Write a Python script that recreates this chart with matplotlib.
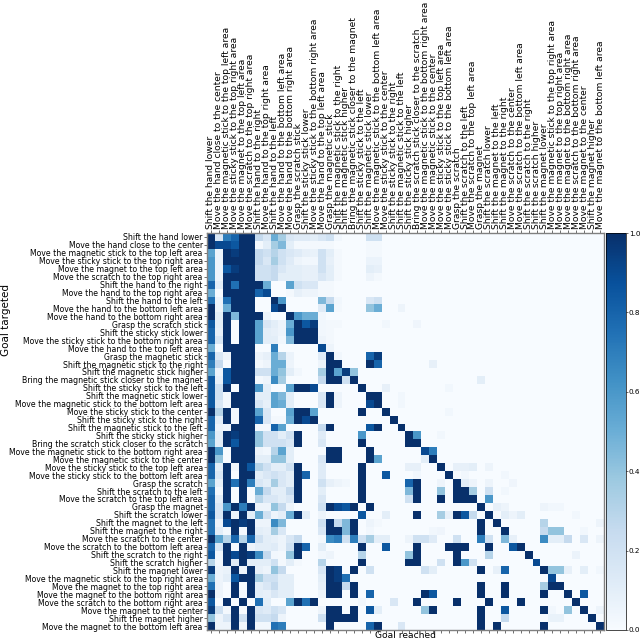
import numpy as np
import matplotlib
matplotlib.use('Agg')
import matplotlib.pyplot as plt

goals = [
    'Shift the hand lower', 'Move the hand close to the center',
    'Move the magnetic stick to the top left area', 'Move the sticky stick to the top right area',
    'Move the magnet to the top left area', 'Move the scratch to the top right area',
    'Shift the hand to the right', 'Move the hand to the top right area',
    'Shift the hand to the left', 'Move the hand to the bottom left area',
    'Move the hand to the bottom right area', 'Grasp the scratch stick',
    'Shift the sticky stick lower', 'Move the sticky stick to the bottom right area',
    'Move the hand to the top left area', 'Grasp the magnetic stick',
    'Shift the magnetic stick to the right', 'Shift the magnetic stick higher',
    'Bring the magnetic stick closer to the magnet', 'Shift the sticky stick to the left',
    'Shift the magnetic stick lower', 'Move the magnetic stick to the bottom left area',
    'Move the sticky stick to the center', 'Shift the sticky stick to the right',
    'Shift the magnetic stick to the left', 'Shift the sticky stick higher',
    'Bring the scratch stick closer to the scratch', 'Move the magnetic stick to the bottom right area',
    'Move the magnetic stick to the center', 'Move the sticky stick to the top left area',
    'Move the sticky stick to the bottom left area', 'Grasp the scratch',
    'Shift the scratch to the left', 'Move the scratch to the top left area',
    'Grasp the magnet', 'Shift the scratch lower',
    'Shift the magnet to the left', 'Shift the magnet to the right',
    'Move the scratch to the center', 'Move the scratch to the bottom left area',
    'Shift the scratch to the right', 'Shift the scratch higher',
    'Shift the magnet lower', 'Move the magnetic stick to the top right area',
    'Move the magnet to the top right area', 'Move the magnet to the bottom right area',
    'Move the scratch to the bottom right area', 'Move the magnet to the center',
    'Shift the magnet higher', 'Move the magnet to the bottom left area',
]

# percent of episodes, rows = goal targeted, columns = goal reached
# first 25 columns hold most of the mass, last 25 are mostly empty
rates_left = [
    [100,15,70,80,100,100,25,15,50,35,15,12,12,10,15,20,3,0,0,0,20,20,0,0,0],
    [100,90,90,85,100,100,2,10,35,45,10,2,2,2,2,2,0,0,0,0,2,2,0,0,0],
    [55,5,100,95,100,100,25,20,30,20,15,12,8,7,20,10,2,0,0,0,2,2,0,0,0],
    [60,5,100,100,100,100,25,15,35,20,12,5,3,3,20,8,2,0,0,0,6,6,0,0,0],
    [60,5,85,95,100,100,20,20,25,15,10,10,8,8,20,10,2,0,0,0,10,8,0,0,0],
    [60,5,100,100,100,100,20,20,25,10,10,10,8,8,15,10,2,0,0,0,5,2,0,0,0],
    [80,10,100,75,100,100,100,50,0,0,55,20,15,15,2,2,0,0,0,0,0,0,0,0,0],
    [50,0,100,100,100,100,80,90,0,0,2,8,5,5,2,2,0,0,0,0,0,0,0,0,0],
    [75,5,75,100,100,100,0,0,100,60,0,0,0,0,45,25,3,0,0,0,15,20,0,0,0],
    [100,5,50,100,100,100,0,0,90,100,0,0,0,0,12,55,2,0,0,0,40,50,0,0,5],
    [100,10,100,45,100,100,100,5,0,0,100,60,50,50,3,0,0,0,0,0,0,0,0,0,0],
    [85,10,100,0,100,100,55,15,10,5,50,100,85,95,3,2,2,0,0,0,0,0,3,0,0],
    [80,8,100,0,100,100,55,10,8,5,60,100,100,100,3,2,0,0,0,0,0,0,0,0,0],
    [80,15,100,0,100,100,55,10,10,3,45,100,100,100,5,2,0,0,0,0,0,0,0,0,0],
    [50,0,100,100,100,100,0,0,70,0,0,0,0,0,90,5,0,0,0,0,0,0,0,0,0],
    [80,15,5,100,100,100,5,8,50,30,6,0,0,0,12,100,3,0,0,0,80,95,0,0,0],
    [70,25,0,100,100,100,2,5,50,50,5,0,0,0,5,100,100,0,0,0,100,80,0,0,0],
    [55,5,85,100,100,100,20,20,50,40,10,3,0,0,35,100,55,95,40,0,0,0,0,0,0],
    [85,8,85,100,100,100,2,5,65,35,0,0,0,0,25,100,100,20,100,0,0,0,0,0,0],
    [85,20,100,0,100,100,60,10,0,0,55,100,100,90,0,0,0,0,0,100,0,0,8,0,0],
    [85,20,2,100,100,100,10,10,55,45,10,0,0,0,15,100,5,0,0,0,100,100,0,0,3],
    [85,15,2,100,100,100,15,8,55,50,10,0,0,0,15,100,5,0,0,0,90,100,0,0,3],
    [100,30,100,3,100,100,55,15,0,0,55,100,100,55,0,0,0,0,0,100,0,0,100,0,0],
    [80,10,100,3,100,100,80,15,2,2,50,100,90,100,0,0,0,0,0,0,0,0,0,100,0],
    [80,5,3,100,100,100,2,2,80,55,0,0,0,0,25,100,0,0,0,0,85,100,0,0,100],
    [60,10,100,95,100,100,40,20,20,10,20,100,0,0,12,0,0,0,0,60,0,0,0,0,0],
    [55,10,100,85,100,100,40,20,20,20,15,100,0,0,15,0,0,0,0,100,0,0,0,0,0],
    [100,60,0,100,100,100,5,3,30,55,10,0,0,0,0,100,100,0,0,0,100,0,0,0,0],
    [100,40,0,100,100,100,10,10,40,40,10,0,0,0,15,100,100,0,0,0,100,55,0,0,0],
    [80,10,100,3,100,85,30,20,10,10,20,100,0,0,12,0,0,0,0,100,0,0,0,0,0],
    [80,15,100,0,100,100,10,15,20,15,10,100,80,0,12,0,0,0,0,100,0,0,85,0,0],
    [55,8,100,75,100,70,15,10,35,15,10,100,0,0,20,8,5,3,0,100,0,0,0,0,0],
    [75,2,100,0,100,0,50,25,10,10,25,100,0,0,10,0,0,0,0,100,0,0,0,0,0],
    [80,10,100,0,100,0,30,15,15,10,15,100,0,0,15,0,0,0,0,100,0,0,0,0,0],
    [80,15,60,100,70,100,5,5,40,25,5,0,0,0,20,100,90,85,100,0,100,0,0,0,0],
    [85,15,100,5,100,10,50,20,5,10,50,100,10,0,5,0,0,0,0,85,0,0,10,0,0],
    [75,5,90,100,95,100,5,5,65,45,0,0,0,0,20,100,25,45,100,0,5,2,0,0,0],
    [75,10,2,100,2,100,10,8,35,15,0,0,0,0,15,100,100,45,100,0,3,0,0,0,0],
    [100,55,30,80,30,80,20,10,8,5,15,25,0,0,2,65,70,20,70,20,35,10,10,0,0],
    [80,15,100,2,100,5,10,10,12,5,20,100,80,0,10,0,0,0,0,100,0,0,85,0,0],
    [85,3,100,90,100,95,65,25,3,2,40,100,0,0,3,5,0,0,0,30,0,0,0,0,0],
    [30,3,100,12,100,10,10,10,20,2,10,2,0,0,30,0,0,0,0,100,0,0,0,0,0],
    [95,5,7,100,5,100,8,5,40,25,0,0,0,0,15,100,95,0,100,0,20,0,0,0,0],
    [50,5,10,85,100,100,35,20,20,10,10,0,0,0,10,100,95,75,0,0,0,0,0,0,0],
    [75,5,0,100,0,100,10,15,25,10,10,0,0,0,8,100,100,25,100,0,0,0,0,0,0],
    [100,5,0,100,3,100,10,8,15,10,10,0,0,0,5,100,100,0,100,0,80,0,0,0,0],
    [85,0,100,0,100,0,75,10,0,0,55,100,75,100,0,0,0,0,0,3,0,0,0,15,0],
    [95,20,2,100,0,100,15,12,20,15,0,0,0,0,5,100,100,0,100,0,85,10,0,0,0],
    [40,5,15,100,20,100,20,20,25,5,0,0,0,0,20,100,100,100,100,0,0,0,0,0,0],
    [100,5,5,100,3,100,3,3,75,70,0,0,0,0,0,100,0,0,0,0,80,100,0,0,15],
]
rates_right = [
    [0]*25, [0]*25, [0]*25, [0]*25, [0]*25, [0]*25, [0]*25, [0]*25, [0]*25, [0]*25,
    [0]*25, [0,4]+[0]*23, [0]*25, [0]*25, [0]*25, [0]*25,
    [0,0,0,8]+[0]*21, [0]*25, [0]*9+[10]+[0]*15, [0]*5+[3]+[0]*19,
    [0]*25, [0]*25, [0]*5+[3]+[0]*19, [0]*25, [0]*25,
    [100,60,0,0,3]+[0]*20,
    [100,100]+[0]*23,
    [0,0,90,70]+[0]*21,
    [0,0,10,100]+[0]*21,
    [8,8,0,0,100,0,8,8,10,0,5]+[0]*14,
    [0,3,0,0,0,100,0,3,0,0,0,0,3]+[0]*12,
    [80,100,0,0,5,0,100,10,5,0,5,0,0,4]+[0]*11,
    [45,100,0,0,40,0,100,100,35,0,20,0,3]+[0]*12,
    [20,100,0,0,100,0,100,100,100,0,60]+[0]*14,
    [0]*9+[100,0,8,5,0,0,0,0,5,3,3]+[0]*5,
    [0,100,0,0,35,8,100,85,25,0,100,0,10,5,10]+[0]*6+[3]+[0]*3,
    [0]*9+[100,0,100]+[0]*5+[30]+[0]*6+[5],
    [0,0,0,3,4,0,0,0,0,100,0,0,100,0,0,0,0,25,40,40,0,0,3,0,0],
    [5,20,20,12,0,0,20,0,0,70,20,0,45,8,0,0,0,65,10,10,25,0,15,0,5],
    [0,100,0,0,0,100,100,100,0,0,100,0,0,85,100]+[0]*10,
    [40,100,0,0,0,0,100,0,0,0,30,0,0,0,0,100,0,0,0,0,0,6,0,0,0],
    [100,100,0,0,20,0,100,60,20,0,0,0,0,0,0,0,90]+[0]*8,
    [0,0,20,10,0,0,0,0,0,100,0,8,80,0,0,0,0,100,40,40,8,0,10,0,3],
    [0]*18+[90]+[0]*6,
    [0]*9+[100,0,0,100,0,0,0,0,35,100,100]+[0]*5,
    [0,0,100,85,0,0,0,0,0,100,0,0,100,0,0,0,0,100,0,0,100,0,85,0,0],
    [0,100,0,0,0,0,100,0,0,0,100,0,0,0,100]+[0]*6+[100,0,0,0],
    [0,0,40,100,0,0,0,0,0,100,0,0,85,0,0,0,0,100,3,0,40,0,100,0,5],
    [0]*9+[100,0,0,25,0,0,0,0,0,7,7,0,0,0,100,0],
    [0]*9+[100,0,100]+[0]*5+[100]+[0]*6+[100],
]

rates = np.hstack([np.array(rates_left), np.array(rates_right)]) / 100

W, H = 640, 639
fig = plt.figure(figsize=(W / 100, H / 100), dpi=100)
ax = fig.add_axes([207 / W, 1 - 630 / H, 397 / W, 397 / H])
cax = fig.add_axes([606 / W, 1 - 630 / H, 20 / W, 397 / H])

im = ax.imshow(rates, cmap='Blues', vmin=0, vmax=1, aspect='auto', interpolation='nearest')

ticks = np.arange(len(goals))
ax.set_xticks(ticks)
ax.set_yticks(ticks)
ax.set_yticklabels(goals, fontsize=5.55)
ax.set_xticklabels(goals, fontsize=6.6, rotation=90)
ax.tick_params(axis='x', top=True, labeltop=True, bottom=True, labelbottom=False, length=2, width=0.4, pad=1)
ax.tick_params(axis='y', length=2, width=0.4, pad=1)
for spine in ax.spines.values():
    spine.set_linewidth(1.0)
    spine.set_color('#808080')

ax.set_xlabel('Goal reached', fontsize=6.6)
ax.xaxis.set_label_coords(0.5, -0.003, transform=ax.transAxes)
ax.xaxis.label.set_va('top')
ax.set_ylabel('Goal targeted', fontsize=7.5)
ax.yaxis.set_label_coords(11 / W, 0.5, transform=fig.transFigure)

cb = fig.colorbar(im, cax=cax)
cb.set_ticks([0, 0.2, 0.4, 0.6, 0.8, 1.0])
cb.ax.tick_params(labelsize=5.2, length=1.5, width=0.4, pad=0.5)
cb.outline.set_linewidth(0.5)

fig.savefig('out.png', dpi=100)
